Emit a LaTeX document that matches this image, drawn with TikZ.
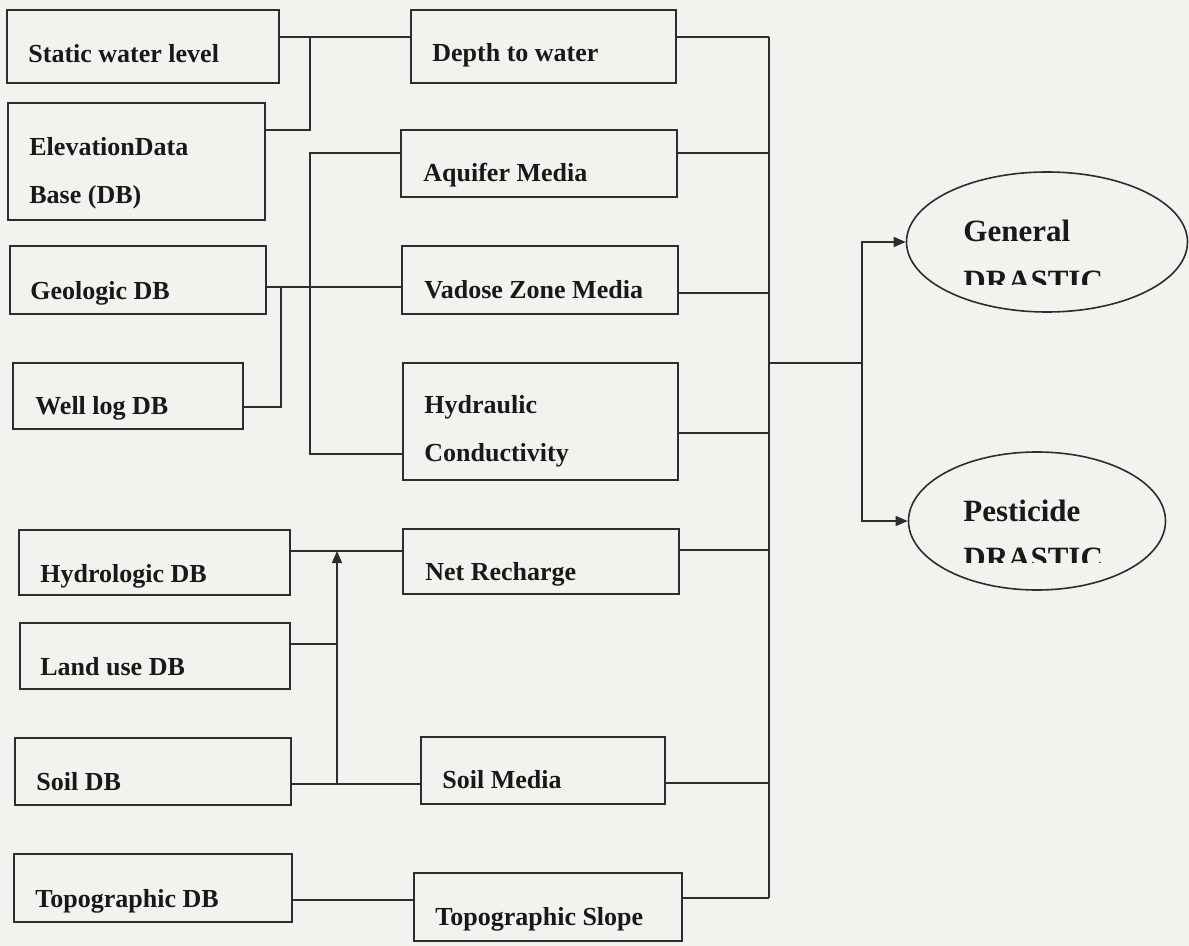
\documentclass[tikz,border=0pt]{standalone}
\usepackage{fontspec}
\setmainfont{Liberation Serif}
\usetikzlibrary{fit,arrows.meta,shapes.geometric}
\definecolor{latar}{RGB}{243,242,238}
\definecolor{garis}{RGB}{45,45,45}

\begin{document}
\begin{tikzpicture}[x=0.5pt,y=-0.5pt,
  kotak/.style={draw=garis,line width=0.9pt,inner sep=0pt},
  teks/.style={anchor=base west,align=left,inner sep=0pt,text=black!90,
    font=\fontsize{13}{24}\selectfont\bfseries},
  besar/.style={teks,font=\fontsize{15.5}{20}\selectfont\bfseries},
  hub/.style={draw=garis,line width=0.7pt},
  panah/.style={hub,-{Triangle[length=6pt,width=5pt]}}]
  \fill[latar] (0,0) rectangle (1189,946);
  \useasboundingbox (0,0) rectangle (1189,946);

  % data bases
  \node[kotak,fit={(7,10) (279,83)}]    (static)   {};
  \node[kotak,fit={(8,103) (265,220)}]  (elev)     {};
  \node[kotak,fit={(10,246) (266,314)}] (geologic) {};
  \node[kotak,fit={(13,363) (243,429)}] (welllog)  {};
  \node[kotak,fit={(19,530) (290,595)}] (hydro)    {};
  \node[kotak,fit={(20,623) (290,689)}] (landuse)  {};
  \node[kotak,fit={(15,738) (291,805)}] (soil)     {};
  \node[kotak,fit={(14,854) (292,922)}] (topo)     {};

  \node[teks] (static-t)   at (28,63)  {Static water level};
  \node[teks] (elev-t)     at (29,204) {ElevationData\\Base (DB)};
  \node[teks] (geologic-t) at (30,300) {Geologic DB};
  \node[teks] (welllog-t)  at (35,415) {Well log DB};
  \node[teks] (hydro-t)    at (40,582) {Hydrologic DB};
  \node[teks] (landuse-t)  at (40,675) {Land use DB};
  \node[teks] (soil-t)     at (36,790) {Soil DB};
  \node[teks] (topo-t)     at (35,907) {Topographic DB};

  % DRASTIC parameters
  \node[kotak,fit={(411,10) (676,83)}]   (depth)     {};
  \node[kotak,fit={(401,130) (677,197)}] (aquifer)   {};
  \node[kotak,fit={(402,246) (678,314)}] (vadose)    {};
  \node[kotak,fit={(403,363) (678,480)}] (hydraulic) {};
  \node[kotak,fit={(403,529) (679,594)}] (recharge)  {};
  \node[kotak,fit={(421,737) (665,804)}] (soilmedia) {};
  \node[kotak,fit={(414,873) (682,941)}] (slope)     {};

  \node[teks] (depth-t)     at (432,62)  {Depth to water};
  \node[teks] (aquifer-t)   at (423,182) {Aquifer Media};
  \node[teks] (vadose-t)    at (424,299) {Vadose Zone Media};
  \node[teks] (hydraulic-t) at (424,462) {Hydraulic\\Conductivity};
  \node[teks] (recharge-t)  at (425,581) {Net Recharge};
  \node[teks] (soilmedia-t) at (442,788) {Soil Media};
  \node[teks] (slope-t)     at (435,925) {Topographic Slope};

  % indices
  \node[draw=garis,line width=0.8pt,ellipse,minimum width=140.5pt,minimum height=70pt] (general) at (1047,242) {};
  \node[draw=garis,line width=0.8pt,ellipse,minimum width=128.5pt,minimum height=69pt] (pesticide) at (1037,521) {};
  \node[besar] (general-t)   at (963,242) {General};
  \node[besar] (pesticide-t) at (963,522) {Pesticide};
  \begin{scope}
    \clip (900,200) rectangle (1189,285);
    \node[besar] (general-d) at (963,292) {DRASTIC};
  \end{scope}
  \begin{scope}
    \clip (900,480) rectangle (1189,562);
    \node[besar] (pesticide-d) at (963,568) {DRASTIC};
  \end{scope}

  % junctions
  \coordinate (jA)  at (310,37);
  \coordinate (jE)  at (310,130);
  \coordinate (jM1) at (310,153);
  \coordinate (jM2) at (310,454);
  \coordinate (jG)  at (281,287);
  \coordinate (jW)  at (281,407);
  \coordinate (jN)  at (337,551);
  \coordinate (jL)  at (337,644);
  \coordinate (jS)  at (337,784);
  \coordinate (jT)  at (350,900);
  \coordinate (jO)  at (769,363);
  \coordinate (jR)  at (862,363);

  \draw[hub] (static.east |- jA) -- (depth.west |- jA);
  \draw[hub] (elev.east |- jE) -- (jE) -- (jA);
  \draw[hub] (aquifer.west |- jM1) -- (jM1) -- (jM2) -- (hydraulic.west |- jM2);
  \draw[hub] (geologic.east |- jG) -- (vadose.west |- jG);
  \draw[hub] (welllog.east |- jW) -- (jW) -- (jG);
  \draw[hub] (hydro.east |- jN) -- (recharge.west |- jN);
  \draw[hub] (landuse.east |- jL) -- (jL);
  \draw[hub] (soil.east |- jS) -- (soilmedia.west |- jS);
  \draw[panah] (jS) -- (jN);
  \draw[hub] (topo.east |- jT) -- (slope.west |- jT);

  % collector line
  \foreach \n/\y in {depth/37,aquifer/153,vadose/293,hydraulic/433,recharge/550,soilmedia/783,slope/898}{
    \coordinate (b\n) at (769,\y);
    \draw[hub] (\n.east |- b\n) -- (b\n);
  }
  \draw[hub] (bdepth) -- (bslope);
  \draw[hub] (jO) -- (jR);
  \draw[panah] (jR) |- (general.west);
  \draw[panah] (jR) |- (pesticide.west);
\end{tikzpicture}
\end{document}
